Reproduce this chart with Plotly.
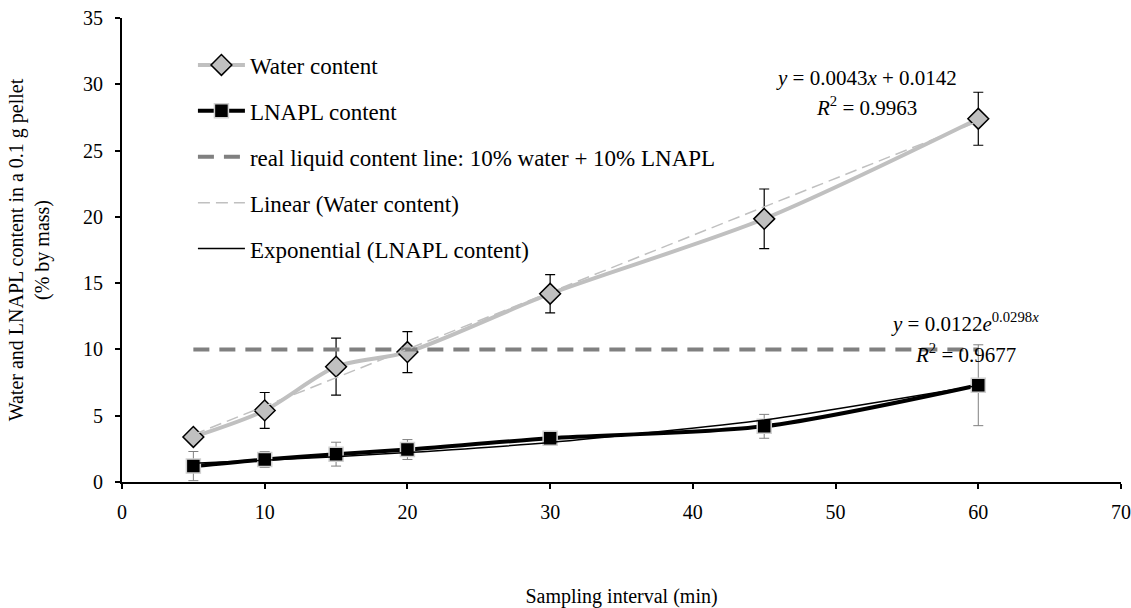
import plotly.graph_objects as go

# data
interval = [5, 10, 15, 20, 30, 45, 60]
water = [3.4, 5.4, 8.7, 9.8, 14.2, 19.85, 27.4]
water_err = [0.0, 1.35, 2.15, 1.55, 1.45, 2.25, 2.0]
lnapl = [1.2, 1.7, 2.1, 2.45, 3.3, 4.2, 7.3]
lnapl_err = [1.1, 0.6, 0.9, 0.75, 0.3, 0.9, 3.05]
ref_x = [5, 60]
ref_y = [10, 10]
lin_x = [5, 60]
lin_y = [3.57, 27.2]
exp_x = [5, 10, 15, 20, 30, 45, 60]
exp_y = [1.42, 1.64, 1.91, 2.22, 2.98, 4.68, 7.28]

FONT = "Liberation Serif, Times New Roman, DejaVu Serif, serif"

fig = go.Figure()
fig.add_trace(go.Scatter(
    x=interval, y=water, name="Water content", legendgroup="a",
    mode="lines+markers", line=dict(color="#c0c0c0", width=4, shape="spline", smoothing=0.8),
    marker=dict(symbol="diamond", size=16, color="#c0c0c0", line=dict(color="black", width=1.5)),
    error_y=dict(type="data", array=water_err, color="black", thickness=1.2, width=5),
))
fig.add_trace(go.Scatter(
    x=interval, y=lnapl, name="LNAPL content", legendgroup="b",
    mode="lines+markers", line=dict(color="black", width=4, shape="spline", smoothing=0.8),
    marker=dict(symbol="square", size=14, color="black", line=dict(color="#d0d0d0", width=1.5)),
    error_y=dict(type="data", array=lnapl_err, color="#808080", thickness=1, width=5),
))
fig.add_trace(go.Scatter(
    x=ref_x, y=ref_y, name="real liquid content line: 10% water + 10% LNAPL", legendgroup="c",
    mode="lines", line=dict(color="#808080", width=4, dash="16px,10px"),
))
fig.add_trace(go.Scatter(
    x=lin_x, y=lin_y, name="Linear (Water content)", legendgroup="d",
    mode="lines", line=dict(color="#c0c0c0", width=1.5, dash="12px,6px"),
))
fig.add_trace(go.Scatter(
    x=exp_x, y=exp_y, name="Exponential (LNAPL content)", legendgroup="e",
    mode="lines", line=dict(color="black", width=1.5, shape="spline", smoothing=0.6),
))

AF = dict(family=FONT, size=21, color="black")
fig.add_annotation(x=52.2, y=30.5, xref="x", yref="y",
                   text="<i>y</i> = 0.0043<i>x</i> + 0.0142", showarrow=False, font=AF)
fig.add_annotation(x=52.2, y=28.35, xref="x", yref="y",
                   text="<i>R</i><sup>2</sup> = 0.9963", showarrow=False, font=AF)
fig.add_annotation(x=59.1, y=12.0, xref="x", yref="y",
                   text="<i>y</i> = 0.0122<i>e</i><sup>0.0298<i>x</i></sup>", showarrow=False, font=AF)
fig.add_annotation(x=59.1, y=9.73, xref="x", yref="y",
                   text="<i>R</i><sup>2</sup> = 0.9677", showarrow=False, font=AF)

fig.update_layout(
    width=1131, height=608,
    margin=dict(l=122, r=10, t=18, b=126),
    plot_bgcolor="white", paper_bgcolor="white",
    font=dict(family=FONT, size=20, color="black"),
    legend=dict(x=0.071, y=0.945, xanchor="left", yanchor="top",
                bgcolor="rgba(0,0,0,0)", tracegroupgap=13, itemwidth=47,
                font=dict(family=FONT, size=23, color="black")),
    showlegend=True,
)
fig.update_xaxes(range=[0, 70], dtick=10, showgrid=False, zeroline=False,
                 showline=True, linecolor="black", linewidth=2,
                 ticks="outside", ticklen=5, tickcolor="black", tickwidth=1.5,
                 ticklabelstandoff=6, automargin=False,
                 tickfont=dict(family=FONT, size=20),
                 title=dict(text="Sampling interval (min)", standoff=67,
                            font=dict(family=FONT, size=20)))
fig.update_yaxes(range=[0, 35], dtick=5, showgrid=False, zeroline=False,
                 showline=True, linecolor="black", linewidth=2,
                 ticks="outside", ticklen=5, tickcolor="black", tickwidth=1.5,
                 ticklabelstandoff=8, automargin=False,
                 tickfont=dict(family=FONT, size=20),
                 title=dict(text="Water and LNAPL content in a 0.1 g pellet<br>(% by mass)",
                            standoff=28, font=dict(family=FONT, size=20)))

fig.write_html("out.html")
